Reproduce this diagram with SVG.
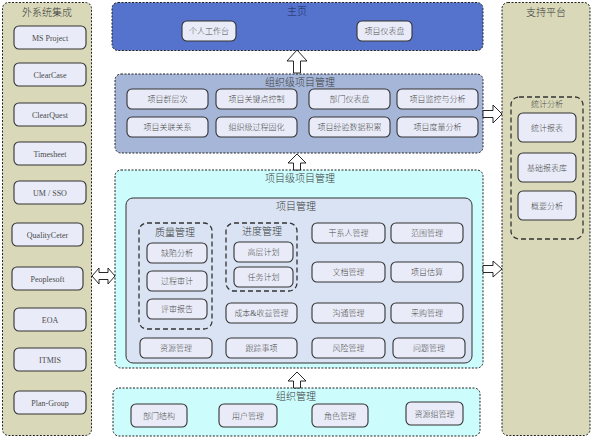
<svg xmlns="http://www.w3.org/2000/svg" width="593" height="439" viewBox="0 0 593 439">
<style>
.panel{fill:#d9d9b9;stroke:#222;stroke-width:1;stroke-dasharray:2,1.5}
.main{fill:#5573cc;stroke:#222;stroke-width:1;stroke-dasharray:2,1.5}
.org{fill:#a6b6d8;stroke:#222;stroke-width:1;stroke-dasharray:2,1.5}
.cyan{fill:#ccfcfc;stroke:#222;stroke-width:1;stroke-dasharray:2,1.5}
.inner{fill:#d9e3f3;stroke:#333;stroke-width:1}
.grp{fill:none;stroke:#333;stroke-width:1.3;stroke-dasharray:5,3}
.box{fill:#e9ecf8;stroke:#333;stroke-width:1.1}
.t{font-family:"Liberation Serif","Noto Sans CJK SC",serif;font-size:8px;fill:#4a4a4a;text-anchor:middle;font-weight:300}
.h{font-family:"Liberation Serif","Noto Sans CJK SC",serif;font-size:10px;fill:#3a3a3a;text-anchor:middle;font-weight:300}
.arr{fill:#fff;stroke:#111;stroke-width:0.9}
</style>
<g id="ext">
<rect class="panel" x="2.5" y="2.5" width="89" height="433" rx="6"/>
<text class="h" x="47" y="16">外系统集成</text>
<rect class="box" x="14" y="26" width="72" height="23" rx="5"/><text class="t" x="50" y="40.5">MS Project</text>
<rect class="box" x="14" y="63" width="72" height="23" rx="5"/><text class="t" x="50" y="77.5">ClearCase</text>
<rect class="box" x="14" y="103" width="72" height="23" rx="5"/><text class="t" x="50" y="117.5">ClearQuest</text>
<rect class="box" x="14" y="142" width="72" height="23" rx="5"/><text class="t" x="50" y="156.5">Timesheet</text>
<rect class="box" x="14" y="181" width="72" height="23" rx="5"/><text class="t" x="50" y="195.5">UM / SSO</text>
<rect class="box" x="12" y="223" width="71" height="23" rx="5"/><text class="t" x="47.5" y="237.5">QualityCeter</text>
<rect class="box" x="12" y="267" width="71" height="23" rx="5"/><text class="t" x="47.5" y="281.5">Peoplesoft</text>
<rect class="box" x="14" y="308" width="72" height="23" rx="5"/><text class="t" x="50" y="322.5">EOA</text>
<rect class="box" x="14" y="348" width="72" height="23" rx="5"/><text class="t" x="50" y="362.5">ITMIS</text>
<rect class="box" x="14" y="391" width="72" height="23" rx="5"/><text class="t" x="50" y="405.5">Plan-Group</text>
</g>
<g id="home">
<rect class="main" x="112" y="2.5" width="371" height="48" rx="6"/>
<text class="h" x="297" y="15" style="fill:#1c2a5a">主页</text>
<rect class="box" x="182" y="21" width="54" height="20" rx="5"/><text class="t" x="209" y="34">个人工作台</text>
<rect class="box" x="357" y="21" width="55" height="20" rx="5"/><text class="t" x="384.5" y="34">项目仪表盘</text>
</g>
<g id="orgpm">
<rect class="org" x="115" y="74" width="368" height="79" rx="6"/>
<text class="h" x="300" y="86">组织级项目管理</text>
<rect class="box" x="127" y="89" width="81" height="20" rx="5"/><text class="t" x="167.5" y="102">项目群层次</text>
<rect class="box" x="216" y="89" width="81" height="20" rx="5"/><text class="t" x="256.5" y="102">项目关键点控制</text>
<rect class="box" x="309" y="89" width="81" height="20" rx="5"/><text class="t" x="349.5" y="102">部门仪表盘</text>
<rect class="box" x="397" y="89" width="81" height="20" rx="5"/><text class="t" x="437.5" y="102">项目监控与分析</text>
<rect class="box" x="127" y="117" width="81" height="20" rx="5"/><text class="t" x="167.5" y="130">项目关联关系</text>
<rect class="box" x="216" y="117" width="81" height="20" rx="5"/><text class="t" x="256.5" y="130">组织级过程固化</text>
<rect class="box" x="309" y="117" width="81" height="20" rx="5"/><text class="t" x="349.5" y="130">项目经验数据积累</text>
<rect class="box" x="397" y="117" width="81" height="20" rx="5"/><text class="t" x="437.5" y="130">项目度量分析</text>
</g>
<g id="projpm">
<rect class="cyan" x="115" y="170" width="368" height="198" rx="6"/>
<text class="h" x="300" y="182">项目级项目管理</text>
<rect class="inner" x="126" y="198" width="346" height="165" rx="7"/>
<text class="h" x="296" y="210">项目管理</text>
<rect class="grp" x="139" y="223" width="73" height="106" rx="8"/>
<text class="h" x="175" y="236">质量管理</text>
<rect class="box" x="147" y="243" width="60" height="20" rx="5"/><text class="t" x="177" y="256">缺陷分析</text>
<rect class="box" x="147" y="271" width="60" height="20" rx="5"/><text class="t" x="177" y="284">过程审计</text>
<rect class="box" x="147" y="299" width="60" height="20" rx="5"/><text class="t" x="177" y="312">评审报告</text>
<rect class="grp" x="226" y="223" width="71" height="68" rx="8"/>
<text class="h" x="262" y="235">进度管理</text>
<rect class="box" x="234" y="242" width="59" height="20" rx="5"/><text class="t" x="263.5" y="255">高层计划</text>
<rect class="box" x="234" y="267" width="59" height="20" rx="5"/><text class="t" x="263.5" y="280">任务计划</text>
<rect class="box" x="226" y="303" width="71" height="20" rx="5"/><text class="t" x="261.5" y="316">成本&amp;收益管理</text>
<rect class="box" x="312" y="223" width="73" height="20" rx="5"/><text class="t" x="348.5" y="236">干系人管理</text>
<rect class="box" x="391" y="223" width="72" height="20" rx="5"/><text class="t" x="427" y="236">范围管理</text>
<rect class="box" x="312" y="262" width="73" height="20" rx="5"/><text class="t" x="348.5" y="275">文档管理</text>
<rect class="box" x="391" y="262" width="72" height="20" rx="5"/><text class="t" x="427" y="275">项目估算</text>
<rect class="box" x="312" y="303" width="73" height="20" rx="5"/><text class="t" x="348.5" y="316">沟通管理</text>
<rect class="box" x="391" y="303" width="72" height="20" rx="5"/><text class="t" x="427" y="316">采购管理</text>
<rect class="box" x="140" y="338" width="72" height="20" rx="5"/><text class="t" x="176" y="351">资源管理</text>
<rect class="box" x="226" y="338" width="71" height="20" rx="5"/><text class="t" x="261.5" y="351">跟踪事项</text>
<rect class="box" x="312" y="338" width="73" height="20" rx="5"/><text class="t" x="348.5" y="351">风险管理</text>
<rect class="box" x="393" y="338" width="72" height="20" rx="5"/><text class="t" x="429" y="351">问题管理</text>
</g>
<g id="orgmgmt">
<rect class="cyan" x="113" y="388" width="367" height="48" rx="6"/>
<text class="h" x="296" y="400">组织管理</text>
<rect class="box" x="131" y="404" width="56" height="23" rx="5"/><text class="t" x="159" y="418.5">部门结构</text>
<rect class="box" x="219" y="404" width="58" height="23" rx="5"/><text class="t" x="248" y="418.5">用户管理</text>
<rect class="box" x="312" y="404" width="56" height="23" rx="5"/><text class="t" x="340" y="418.5">角色管理</text>
<rect class="box" x="406" y="402" width="57" height="23" rx="5"/><text class="t" x="434.5" y="416.5">资源组管理</text>
</g>
<g id="support">
<rect class="panel" x="502" y="2.5" width="88" height="433" rx="6"/>
<text class="h" x="546" y="16">支持平台</text>
<rect class="grp" x="511" y="97" width="72" height="142" rx="8"/>
<text class="t" x="547" y="107">统计分析</text>
<rect class="box" x="518" y="113" width="58" height="29" rx="5"/><text class="t" x="547" y="130.5">统计报表</text>
<rect class="box" x="518" y="153" width="58" height="29" rx="5"/><text class="t" x="547" y="170.5">基础报表库</text>
<rect class="box" x="518" y="191" width="58" height="29" rx="5"/><text class="t" x="547" y="208.5">概要分析</text>
</g>
<g id="connectors">
<path class="arr" d="M297,50 L307,61 L300.5,61 L300.5,73 L293.5,73 L293.5,61 L287,61 Z"/>
<path class="arr" d="M297,154 L306,163 L300.5,163 L300.5,170 L293.5,170 L293.5,163 L288,163 Z"/>
<path class="arr" d="M297,372 L306,381 L300.5,381 L300.5,388 L293.5,388 L293.5,381 L288,381 Z"/>
<path class="arr" d="M502,114 L493,105 L493,110.5 L483,110.5 L483,117.5 L493,117.5 L493,123 Z"/>
<path class="arr" d="M502,269 L493,261 L493,265.5 L483,265.5 L483,272.5 L493,272.5 L493,277 Z"/>
<path class="arr" d="M92,276 L99,268 L99,272.5 L108,272.5 L108,268 L115,276 L108,284 L108,279.5 L99,279.5 L99,284 Z"/>
</g>
</svg>
